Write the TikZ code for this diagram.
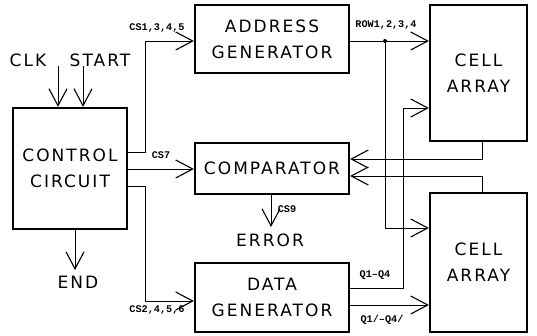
\documentclass[tikz,border=0pt]{standalone}
\usepackage{fontspec}
\setmainfont{DejaVu Sans}
\newfontfamily\lblfont{Liberation Mono}
\usetikzlibrary{arrows.meta}
\begin{document}
\begin{tikzpicture}[x=1pt,y=-1pt,
  blk/.style={draw, line width=2.2pt, inner sep=0pt, align=center, font=\fontsize{17}{26}\selectfont\addfontfeature{LetterSpace=12}},
  ln/.style={line width=0.9pt},
  arr/.style={ln, -{Straight Barb[length=17pt,width=18pt,line width=1.1pt]}},
  lbl/.style={font=\lblfont\bfseries\fontsize{10.2}{10}\selectfont, inner sep=0pt},
  big/.style={font=\fontsize{17}{20}\selectfont\addfontfeature{LetterSpace=12}, inner sep=0pt}]
\useasboundingbox (0,0) rectangle (537,335);
% blocks
\node[blk, minimum width=114pt, minimum height=121pt] (ctrl) at (70,168.5) {CONTROL\\CIRCUIT};
\node[blk, minimum width=154pt, minimum height=68pt] (addr) at (272,39) {ADDRESS\\GENERATOR};
\node[blk, minimum width=154pt, minimum height=51pt] (comp) at (272,168.5) {COMPARATOR};
\node[blk, minimum width=154pt, minimum height=69pt] (data) at (272,297.5) {DATA\\GENERATOR};
\node[blk, minimum width=97pt, minimum height=136pt] (cellA) at (478.5,73) {CELL\\ARRAY};
\node[blk, minimum width=97pt, minimum height=139pt] (cellB) at (478.5,262.5) {CELL\\ARRAY};
% plain texts
\node[big] (clk) at (28,60) {CLK};
\node[big] (start) at (100,60) {START};
\node[big] (endl) at (78,282) {END};
\node[big] (err) at (270,240) {ERROR};
% coordinates
\coordinate (clktop) at (58,66);
\coordinate (sttop) at (83,66);
\coordinate (endtip) at (75,270);
\coordinate (errtip) at (271,227);
\coordinate (jn) at (385,41);
% connectors
\draw[arr] (clktop) -- (ctrl.north -| clktop);
\draw[arr] (sttop) -- (ctrl.north -| sttop);
\draw[arr] (ctrl.south -| endtip) -- (endtip);
\draw[arr] (ctrl.east |- 0,152) -- (145,152) |- (addr.west |- 0,41);
\draw[arr] (ctrl.east |- 0,169) -- (comp.west |- 0,169);
\draw[arr] (ctrl.east |- 0,186) -- (145,186) |- (data.west |- 0,301);
\draw[arr] (comp.south -| errtip) -- (errtip);
\draw[ln] (addr.east |- jn) -- (jn);
\draw[arr] (jn) -- (cellA.west |- jn);
\draw[arr] (jn) |- (cellB.west |- 0,228);
\fill (jn) circle (2pt);
\draw[arr] (data.east |- 0,288) -- (403,288) -- (403,108) -- (cellA.west |- 0,108);
\draw[arr] (data.east |- 0,305) -- (cellB.west |- 0,305);
\draw[arr] (cellA.south -| 482,0) |- (comp.east |- 0,159);
\draw[arr] (cellB.north -| 482,0) |- (comp.east |- 0,176);
% labels
\node[lbl] (l1) at (157,28) {CS1,3,4,5};
\node[lbl] (l2) at (161,155) {CS7};
\node[lbl] (l3) at (157,310) {CS2,4,5,6};
\node[lbl] (l4) at (287,209) {CS9};
\node[lbl] (l5) at (386,25) {ROW1,2,3,4};
\node[lbl] (l6) at (375,275) {Q1\textendash Q4};
\node[lbl] (l7) at (382,320) {Q1/\textendash Q4/};
\end{tikzpicture}
\end{document}
